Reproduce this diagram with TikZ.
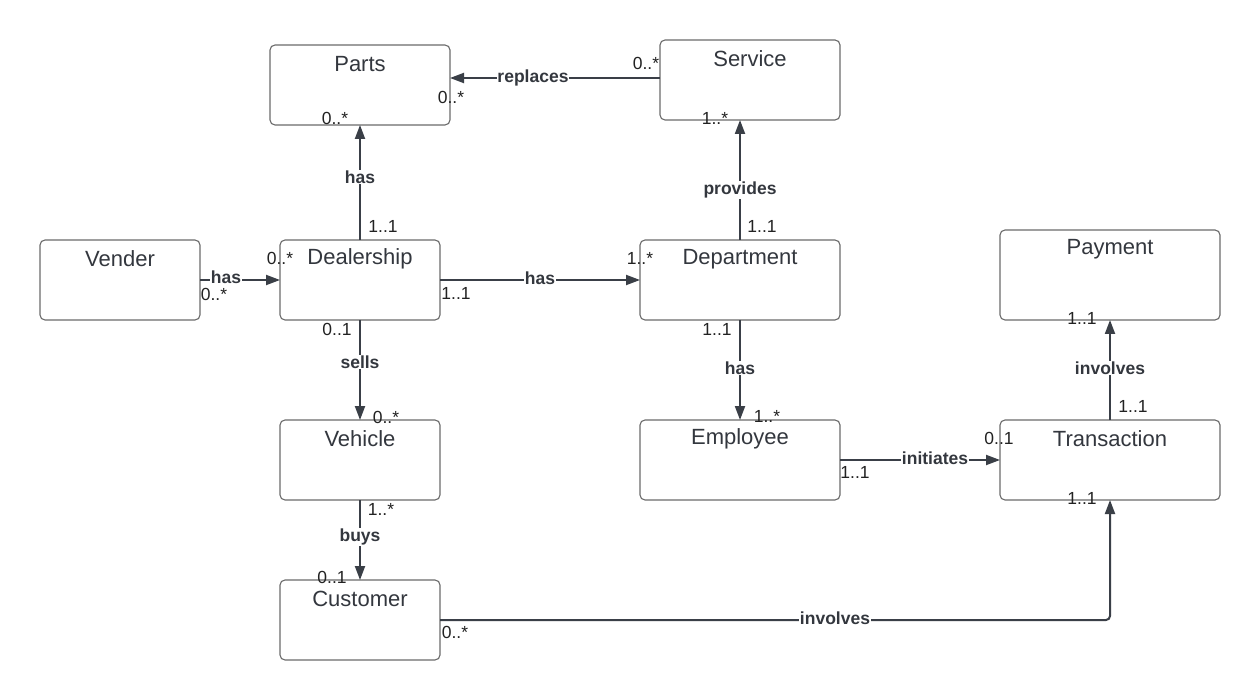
\documentclass[tikz,border=0pt]{standalone}
\usepackage{fontspec}
\setmainfont{Liberation Sans}
\usetikzlibrary{arrows.meta,calc}
\definecolor{boxline}{HTML}{6A6A6A}
\definecolor{conncol}{HTML}{3A3F47}
\definecolor{txtcol}{HTML}{33373E}
\definecolor{multcol}{HTML}{222222}
\tikzset{
  cls/.style={draw=boxline, line width=1.1pt, rounded corners=5pt, fill=white, inner sep=0pt, outer sep=0pt},
  clsname/.style={font=\fontsize{22}{24}\selectfont, text=txtcol, inner sep=0pt},
  conn/.style={draw=conncol, line width=2pt, -{Triangle[length=14pt,width=10pt]}},
  rel/.style={font=\fontsize{17.5}{19}\selectfont\bfseries, text=txtcol, fill=white, inner sep=0.5pt},
  mult/.style={font=\fontsize{17.5}{19}\selectfont, text=multcol, inner sep=0pt}
}
\begin{document}
\begin{tikzpicture}[x=1pt,y=-1pt]
\useasboundingbox[fill=white] (0,0) rectangle (1260,700);
% classes
\node[cls, minimum width=180pt, minimum height=80pt] (parts) at (360,85) {};
\node[cls, minimum width=180pt, minimum height=80pt] (service) at (750,80) {};
\node[cls, minimum width=160pt, minimum height=80pt] (vender) at (120,280) {};
\node[cls, minimum width=160pt, minimum height=80pt] (dealer) at (360,280) {};
\node[cls, minimum width=200pt, minimum height=80pt] (dept) at (740,280) {};
\node[cls, minimum width=220pt, minimum height=90pt] (payment) at (1110,275) {};
\node[cls, minimum width=160pt, minimum height=80pt] (vehicle) at (360,460) {};
\node[cls, minimum width=200pt, minimum height=80pt] (employee) at (740,460) {};
\node[cls, minimum width=220pt, minimum height=80pt] (trans) at (1110,460) {};
\node[cls, minimum width=160pt, minimum height=80pt] (customer) at (360,620) {};
% class names
\node[clsname] (partsT) at (360,64) {Parts};
\node[clsname] (serviceT) at (750,59) {Service};
\node[clsname] (venderT) at (120,259) {Vender};
\node[clsname] (dealerT) at (360,259) {Dealership};
\node[clsname] (deptT) at (740,259) {Department};
\node[clsname] (paymentT) at (1110,249) {Payment};
\node[clsname] (vehicleT) at (360,439) {Vehicle};
\node[clsname] (employeeT) at (740,439) {Employee};
\node[clsname] (transT) at (1110,439) {Transaction};
\node[clsname] (customerT) at (360,599) {Customer};
% connectors
\draw[conn] (dealer.north) -- (parts.south);
\draw[conn] ($(service.west)+(0,-2)$) -- ($(parts.east |- service.west)+(0,-2)$);
\draw[conn] (dept.north) -- (dept.north |- service.south);
\draw[conn] (vender.east) -- (dealer.west);
\draw[conn] (dealer.east) -- (dept.west);
\draw[conn] (dealer.south) -- (vehicle.north);
\draw[conn] (vehicle.south) -- (customer.north);
\draw[conn] (dept.south) -- (employee.north);
\draw[conn] (employee.east) -- (trans.west);
\draw[conn] (trans.north) -- (payment.south);
\draw[conn, rounded corners=4pt] (customer.east) -- (customer.east -| trans.south) -- (trans.south);
% relation labels
\node[rel] (l1) at (360,177) {has};
\node[rel] (l2) at (533,78) {replaces};
\node[rel] (l3) at (740,190) {provides};
\node[rel] (l4) at (226,277) {has};
\node[rel] (l5) at (540,278) {has};
\node[rel] (l6) at (360,362) {sells};
\node[rel] (l7) at (360,537) {buys};
\node[rel] (l8) at (740,368) {has};
\node[rel] (l9) at (935,458) {initiates};
\node[rel] (l10) at (1110,368) {involves};
\node[rel] (l11) at (835,618) {involves};
% multiplicities
\node[mult] (m1) at (383,226) {1..1};
\node[mult] (m2) at (335,118) {0..*};
\node[mult] (m3) at (646,63) {0..*};
\node[mult] (m4) at (451,97) {0..*};
\node[mult] (m5) at (762,226) {1..1};
\node[mult] (m6) at (715,118) {1..*};
\node[mult] (m7) at (214,294) {0..*};
\node[mult] (m8) at (280,258) {0..*};
\node[mult] (m9) at (456,293) {1..1};
\node[mult] (m10) at (640,258) {1..*};
\node[mult] (m11) at (337,329) {0..1};
\node[mult] (m12) at (386,417) {0..*};
\node[mult] (m13) at (381,509) {1..*};
\node[mult] (m14) at (332,577) {0..1};
\node[mult] (m15) at (717,329) {1..1};
\node[mult] (m16) at (767,416) {1..*};
\node[mult] (m17) at (855,472) {1..1};
\node[mult] (m18) at (999,438) {0..1};
\node[mult] (m19) at (1133,406) {1..1};
\node[mult] (m20) at (1082,318) {1..1};
\node[mult] (m21) at (1082,498) {1..1};
\node[mult] (m22) at (455,632) {0..*};
\end{tikzpicture}
\end{document}
